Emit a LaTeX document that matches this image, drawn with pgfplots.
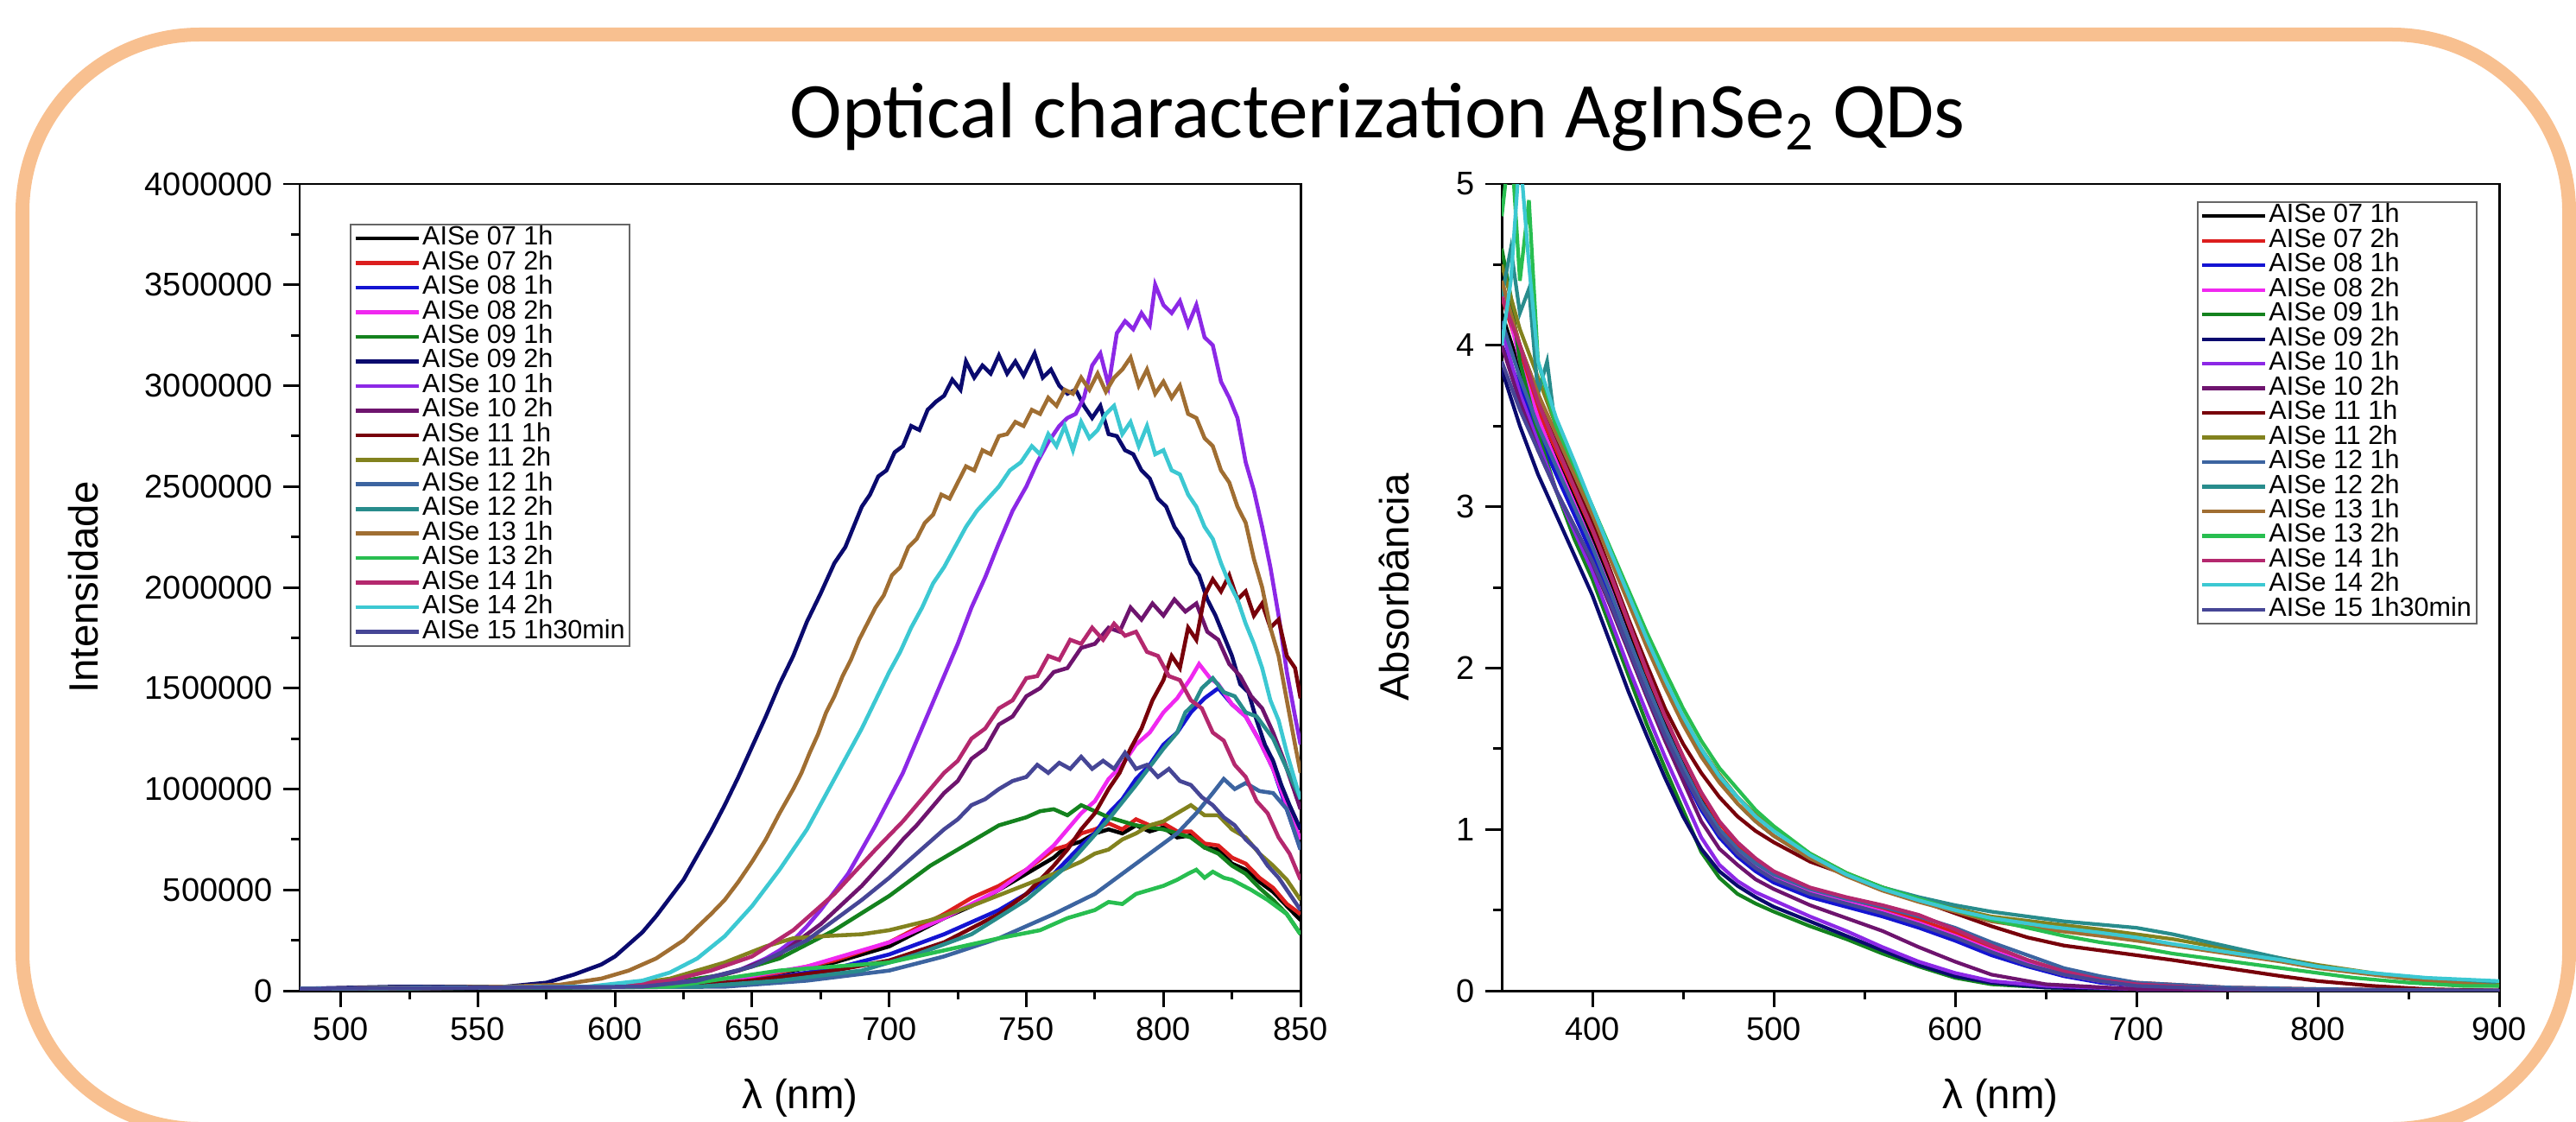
\documentclass[border=0pt]{standalone}
\usepackage{fontspec}
\setmainfont{Liberation Sans}
\newfontfamily\titlefont{Carlito}
\usepackage{pgfplots}
\pgfplotsset{compat=1.18}

\definecolor{framecol}{RGB}{248,192,144}
\definecolor{cA}{RGB}{0,0,0}
\definecolor{cB}{RGB}{220,30,30}
\definecolor{cC}{RGB}{20,20,210}
\definecolor{cD}{RGB}{240,40,240}
\definecolor{cE}{RGB}{20,130,30}
\definecolor{cF}{RGB}{10,10,110}
\definecolor{cG}{RGB}{140,40,230}
\definecolor{cH}{RGB}{110,20,110}
\definecolor{cI}{RGB}{120,0,10}
\definecolor{cJ}{RGB}{130,130,30}
\definecolor{cK}{RGB}{60,100,160}
\definecolor{cL}{RGB}{40,140,140}
\definecolor{cM}{RGB}{160,110,50}
\definecolor{cN}{RGB}{40,190,80}
\definecolor{cO}{RGB}{180,40,110}
\definecolor{cP}{RGB}{60,200,210}
\definecolor{cQ}{RGB}{70,70,150}

\pgfplotsset{
  legend image code/.code={\draw[#1] (0cm,0cm) -- (0.73cm,0cm);},
  specaxis/.style={
    scale only axis, height=9.34cm,
    axis line style={line width=0.85pt},
    tick align=outside, tick pos=left,
    major tick length=0.19cm, minor tick length=0.1cm,
    every tick/.style={black, line width=0.85pt},
    tick label style={font=\fontsize{10.8}{12}\selectfont},
    /pgf/number format/assume math mode=true,
    every axis x label/.style={at={(axis description cs:0.5,-0.1328)}, anchor=center,
      font=\fontsize{13.5}{15}\selectfont},
    legend cell align=left,
    legend style={draw=black!60, line width=0.55pt, font=\fontsize{8.7}{9}\selectfont,
      inner xsep=1pt, inner ysep=0.6pt, row sep=0pt,
      nodes={inner sep=0.6pt, text height=5.6pt, text depth=1.3pt}},
  }
}

\begin{document}
\begin{tikzpicture}
\useasboundingbox (0,0) rectangle (29.83,12.98);
\begin{scope}
\clip (0,0) rectangle (29.83,12.98);
\draw[framecol, line width=0.16cm, rounded corners=2.05cm] (0.26,12.58) rectangle (29.75,-0.09);
\end{scope}
\node[anchor=base, font=\titlefont\fontsize{26}{30}\selectfont] at (15.95,11.38)
  {Optical characterization AgInSe\textsubscript{2} QDs};

% ---------- emission ----------
\begin{axis}[specaxis,
  at={(3.47cm,1.51cm)}, anchor=south west, width=11.59cm,
  xmin=485, xmax=850, ymin=0, ymax=4,
  xtick={500,550,...,850}, minor x tick num=1,
  ytick={0,0.5,...,4}, minor y tick num=1,
  yticklabels={0,500000,1000000,1500000,2000000,2500000,3000000,3500000,4000000},
  xlabel={λ (nm)}, ylabel={Intensidade},
  every axis y label/.style={at={(axis description cs:-0.2157,0.5)}, rotate=90, anchor=center,
    font=\fontsize{13.5}{15}\selectfont},
  legend style={at={(0.05,0.951)}, anchor=north west},
  every axis plot/.append style={line width=1.3pt},
]
% AISe 07 1h
\addplot[cA] coordinates {(485,0.01)(620,0.02)(650,0.06)(680,0.14)(700,0.22)(720,0.36)(730,0.42)(740,0.50)(750,0.58)(760,0.66)(765,0.72)(770,0.74)(775,0.78)(780,0.80)(785,0.78)(790,0.82)(795,0.79)(800,0.81)(805,0.76)(810,0.77)(815,0.71)(820,0.70)(825,0.63)(830,0.60)(835,0.54)(840,0.49)(845,0.42)(850,0.35)};
% AISe 07 2h
\addplot[cB] coordinates {(485,0.01)(620,0.02)(650,0.06)(680,0.15)(700,0.24)(720,0.38)(730,0.46)(740,0.52)(750,0.60)(760,0.70)(765,0.72)(770,0.78)(775,0.80)(780,0.83)(785,0.80)(790,0.85)(795,0.82)(800,0.83)(805,0.79)(810,0.79)(815,0.73)(820,0.72)(825,0.66)(830,0.63)(835,0.56)(840,0.51)(845,0.43)(850,0.38)};
% AISe 08 1h
\addplot[cC] coordinates {(485,0.01)(620,0.02)(650,0.05)(680,0.11)(700,0.18)(720,0.28)(740,0.40)(750,0.48)(760,0.58)(770,0.72)(775,0.78)(780,0.88)(785,0.95)(790,1.05)(795,1.12)(800,1.22)(805,1.28)(810,1.38)(815,1.45)(820,1.50)(825,1.42)(830,1.36)(835,1.24)(840,1.10)(845,0.90)(850,0.70)};
% AISe 08 2h
\addplot[cD] coordinates {(485,0.01)(610,0.02)(640,0.05)(670,0.12)(700,0.24)(720,0.36)(740,0.50)(750,0.60)(760,0.72)(770,0.88)(775,0.94)(780,1.05)(785,1.12)(790,1.22)(795,1.28)(800,1.38)(805,1.45)(810,1.55)(813,1.62)(817,1.55)(820,1.52)(825,1.42)(830,1.36)(835,1.24)(840,1.10)(845,0.92)(850,0.75)};
% AISe 09 1h
\addplot[cE] coordinates {(485,0.01)(600,0.02)(620,0.04)(640,0.08)(660,0.16)(680,0.30)(700,0.47)(715,0.62)(730,0.74)(740,0.82)(745,0.84)(750,0.86)(755,0.89)(760,0.90)(765,0.87)(770,0.92)(775,0.89)(780,0.86)(785,0.84)(790,0.82)(795,0.81)(800,0.80)(805,0.78)(810,0.76)(815,0.71)(820,0.68)(825,0.62)(830,0.58)(835,0.51)(840,0.45)(845,0.38)(850,0.28)};
% AISe 09 2h
\addplot[cF] coordinates {(485,0.01)(520,0.02)(560,0.02)(575,0.04)(585,0.08)(595,0.13)(600,0.17)(605,0.23)(610,0.29)(615,0.37)(620,0.46)(625,0.55)(630,0.67)(635,0.79)(640,0.92)(645,1.06)(650,1.21)(655,1.36)(660,1.52)(665,1.66)(670,1.83)(675,1.97)(680,2.12)(684,2.20)(687,2.30)(690,2.40)(693,2.46)(696,2.55)(699,2.58)(702,2.67)(705,2.70)(708,2.80)(711,2.78)(714,2.88)(717,2.92)(720,2.95)(723,3.03)(726,2.98)(728,3.12)(731,3.04)(734,3.10)(737,3.06)(740,3.15)(743,3.06)(746,3.12)(749,3.05)(753,3.16)(756,3.04)(759,3.08)(762,3.00)(765,2.96)(768,2.98)(771,2.90)(774,2.84)(777,2.90)(780,2.76)(783,2.75)(786,2.68)(789,2.66)(792,2.58)(795,2.54)(798,2.44)(801,2.40)(804,2.30)(807,2.24)(810,2.12)(813,2.06)(816,1.94)(819,1.86)(822,1.76)(825,1.66)(828,1.52)(831,1.48)(834,1.34)(837,1.22)(840,1.14)(843,1.02)(846,0.92)(850,0.80)};
% AISe 10 1h
\addplot[cG] coordinates {(485,0.01)(600,0.02)(630,0.05)(645,0.10)(650,0.13)(655,0.16)(660,0.20)(665,0.25)(670,0.32)(675,0.40)(680,0.49)(685,0.58)(690,0.70)(695,0.82)(700,0.95)(705,1.08)(710,1.24)(715,1.40)(720,1.56)(725,1.72)(730,1.90)(735,2.05)(740,2.22)(745,2.38)(750,2.50)(754,2.62)(758,2.72)(762,2.80)(765,2.84)(768,2.86)(771,2.94)(774,3.10)(777,3.16)(780,3.00)(783,3.26)(786,3.32)(789,3.28)(792,3.36)(795,3.30)(797,3.50)(800,3.40)(803,3.36)(806,3.42)(809,3.30)(812,3.40)(815,3.24)(818,3.20)(821,3.02)(824,2.94)(827,2.84)(830,2.62)(833,2.48)(836,2.30)(839,2.10)(842,1.86)(845,1.58)(848,1.36)(850,1.22)};
% AISe 10 2h
\addplot[cH] coordinates {(485,0.01)(610,0.02)(630,0.05)(645,0.10)(660,0.18)(675,0.33)(690,0.52)(700,0.67)(705,0.75)(710,0.82)(715,0.90)(720,0.98)(725,1.04)(730,1.15)(735,1.20)(740,1.32)(745,1.36)(750,1.46)(755,1.50)(760,1.58)(765,1.60)(770,1.70)(775,1.72)(780,1.80)(784,1.78)(788,1.90)(792,1.84)(796,1.92)(800,1.86)(804,1.94)(808,1.88)(812,1.92)(816,1.78)(820,1.74)(824,1.62)(828,1.56)(832,1.46)(836,1.40)(840,1.28)(844,1.14)(848,0.98)(850,0.90)};
% AISe 11 1h
\addplot[cI] coordinates {(485,0.01)(620,0.02)(650,0.05)(680,0.10)(700,0.15)(720,0.24)(740,0.38)(750,0.48)(760,0.62)(765,0.70)(770,0.80)(775,0.88)(780,1.00)(784,1.08)(788,1.20)(792,1.30)(796,1.44)(800,1.54)(803,1.66)(806,1.60)(809,1.80)(812,1.74)(815,1.96)(818,2.04)(821,1.98)(824,2.06)(827,1.94)(830,1.98)(833,1.86)(836,1.92)(839,1.80)(842,1.84)(845,1.66)(848,1.60)(850,1.45)};
% AISe 11 2h
\addplot[cJ] coordinates {(485,0.01)(600,0.02)(620,0.06)(640,0.14)(655,0.22)(665,0.26)(675,0.27)(690,0.28)(700,0.30)(715,0.35)(730,0.42)(745,0.50)(760,0.58)(770,0.64)(775,0.68)(780,0.70)(785,0.75)(790,0.78)(795,0.82)(800,0.84)(805,0.88)(810,0.92)(815,0.87)(820,0.87)(825,0.80)(830,0.76)(835,0.68)(840,0.62)(845,0.55)(850,0.45)};
% AISe 12 1h
\addplot[cK] coordinates {(485,0.01)(640,0.02)(670,0.05)(700,0.10)(720,0.17)(740,0.26)(760,0.38)(775,0.48)(785,0.58)(795,0.68)(805,0.78)(812,0.88)(818,0.98)(822,1.05)(826,1.00)(830,1.03)(835,0.99)(840,0.98)(845,0.90)(850,0.70)};
% AISe 12 2h
\addplot[cL] coordinates {(485,0.01)(630,0.02)(660,0.05)(690,0.10)(710,0.18)(730,0.28)(750,0.45)(765,0.62)(780,0.85)(790,1.02)(800,1.20)(805,1.28)(808,1.38)(811,1.42)(814,1.50)(818,1.55)(822,1.48)(826,1.46)(830,1.38)(834,1.36)(840,1.25)(845,1.10)(850,0.95)};
% AISe 13 1h
\addplot[cM] coordinates {(485,0.01)(560,0.02)(580,0.03)(595,0.06)(605,0.10)(615,0.16)(625,0.25)(635,0.38)(640,0.45)(645,0.54)(650,0.64)(655,0.75)(660,0.88)(665,1.00)(668,1.08)(671,1.18)(674,1.27)(677,1.38)(680,1.46)(683,1.56)(686,1.64)(689,1.74)(692,1.82)(695,1.90)(698,1.96)(701,2.06)(704,2.10)(707,2.20)(710,2.24)(713,2.32)(716,2.36)(719,2.46)(722,2.44)(725,2.52)(728,2.60)(731,2.58)(734,2.68)(737,2.66)(740,2.75)(743,2.76)(746,2.82)(749,2.80)(752,2.88)(755,2.86)(758,2.94)(761,2.90)(764,2.98)(767,2.96)(770,3.04)(773,2.98)(776,3.06)(779,2.97)(782,3.04)(785,3.08)(788,3.14)(791,3.00)(794,3.08)(797,2.96)(800,3.02)(803,2.94)(806,3.00)(809,2.86)(812,2.84)(815,2.74)(818,2.70)(821,2.58)(824,2.52)(827,2.40)(830,2.32)(833,2.14)(836,2.00)(839,1.80)(842,1.66)(845,1.44)(848,1.22)(850,1.08)};
% AISe 13 2h
\addplot[cN] coordinates {(485,0.01)(620,0.02)(640,0.06)(660,0.10)(680,0.12)(700,0.14)(720,0.20)(740,0.26)(755,0.30)(765,0.36)(775,0.40)(780,0.44)(785,0.43)(790,0.48)(795,0.50)(800,0.52)(805,0.55)(809,0.58)(812,0.60)(815,0.56)(818,0.59)(822,0.56)(825,0.55)(832,0.50)(838,0.45)(845,0.38)(850,0.28)};
% AISe 14 1h
\addplot[cO] coordinates {(485,0.01)(600,0.02)(620,0.05)(635,0.10)(650,0.17)(665,0.30)(680,0.48)(695,0.70)(700,0.77)(705,0.84)(710,0.92)(715,1.00)(720,1.08)(725,1.14)(730,1.25)(735,1.30)(740,1.40)(745,1.44)(750,1.55)(754,1.56)(758,1.66)(762,1.64)(766,1.74)(770,1.72)(774,1.80)(778,1.74)(782,1.82)(786,1.76)(790,1.78)(794,1.68)(798,1.66)(802,1.56)(806,1.54)(810,1.44)(814,1.40)(818,1.28)(822,1.24)(826,1.12)(830,1.06)(834,0.94)(838,0.88)(842,0.76)(846,0.68)(850,0.55)};
% AISe 14 2h
\addplot[cP] coordinates {(485,0.01)(590,0.02)(610,0.05)(620,0.09)(630,0.16)(640,0.27)(650,0.42)(660,0.60)(670,0.80)(680,1.05)(690,1.30)(700,1.58)(704,1.68)(708,1.80)(712,1.90)(716,2.02)(720,2.10)(724,2.20)(728,2.30)(732,2.38)(736,2.44)(740,2.50)(744,2.58)(748,2.62)(752,2.70)(755,2.66)(758,2.76)(761,2.70)(764,2.80)(767,2.68)(770,2.82)(773,2.74)(776,2.78)(779,2.86)(782,2.90)(785,2.76)(788,2.82)(791,2.70)(794,2.80)(797,2.66)(800,2.68)(803,2.58)(806,2.56)(809,2.46)(812,2.40)(815,2.30)(818,2.24)(821,2.12)(824,2.02)(827,1.94)(830,1.82)(833,1.72)(836,1.60)(839,1.44)(842,1.34)(845,1.18)(848,1.04)(850,0.95)};
% AISe 15 1h30min
\addplot[cQ] coordinates {(485,0.01)(610,0.02)(630,0.05)(650,0.12)(670,0.25)(690,0.45)(700,0.56)(705,0.62)(710,0.68)(715,0.74)(720,0.80)(725,0.85)(730,0.92)(735,0.95)(740,1.00)(745,1.04)(750,1.06)(754,1.12)(758,1.08)(762,1.13)(766,1.10)(770,1.16)(774,1.10)(778,1.14)(782,1.10)(786,1.18)(790,1.10)(794,1.12)(798,1.06)(802,1.10)(806,1.04)(810,1.02)(814,0.96)(818,0.92)(822,0.86)(826,0.82)(830,0.75)(834,0.70)(838,0.62)(842,0.56)(846,0.48)(850,0.40)};
\legend{AISe 07 1h, AISe 07 2h, AISe 08 1h, AISe 08 2h, AISe 09 1h, AISe 09 2h, AISe 10 1h, AISe 10 2h, AISe 11 1h, AISe 11 2h, AISe 12 1h, AISe 12 2h, AISe 13 1h, AISe 13 2h, AISe 14 1h, AISe 14 2h, AISe 15 1h30min}
\end{axis}

% ---------- absorbance ----------
\begin{axis}[specaxis,
  at={(17.39cm,1.51cm)}, anchor=south west, width=11.55cm,
  xmin=350, xmax=900, ymin=0, ymax=5,
  xtick={400,500,...,900}, minor x tick num=1,
  ytick={0,1,...,5}, minor y tick num=1,
  xlabel={λ (nm)}, ylabel={Absorbância},
  every axis y label/.style={at={(axis description cs:-0.108,0.5)}, rotate=90, anchor=center,
    font=\fontsize{13.5}{15}\selectfont},
  legend style={at={(0.978,0.9786)}, anchor=north east},
  every axis plot/.append style={line width=1.2pt},
]
% AISe 07 1h
\addplot[cA] coordinates {(350,4.2)(360,3.85)(370,3.55)(380,3.3)(390,3.05)(400,2.8)(410,2.52)(420,2.22)(430,1.92)(440,1.65)(450,1.40)(460,1.18)(470,1.0)(480,0.87)(490,0.78)(500,0.71)(520,0.62)(540,0.56)(560,0.50)(580,0.43)(600,0.35)(620,0.26)(640,0.18)(660,0.11)(680,0.07)(700,0.04)(750,0.01)(800,0)(900,0)};
% AISe 07 2h
\addplot[cB] coordinates {(350,4.3)(360,3.95)(370,3.6)(380,3.35)(390,3.1)(400,2.85)(410,2.57)(420,2.27)(430,1.97)(440,1.70)(450,1.45)(460,1.22)(470,1.04)(480,0.90)(490,0.80)(500,0.73)(520,0.63)(540,0.57)(560,0.51)(580,0.44)(600,0.36)(620,0.27)(640,0.19)(660,0.12)(680,0.08)(700,0.05)(750,0.02)(800,0.01)(900,0)};
% AISe 08 1h
\addplot[cC] coordinates {(350,4.0)(360,3.75)(370,3.45)(380,3.2)(390,2.95)(400,2.7)(410,2.43)(420,2.14)(430,1.85)(440,1.58)(450,1.34)(460,1.12)(470,0.95)(480,0.83)(490,0.74)(500,0.67)(520,0.58)(540,0.52)(560,0.46)(580,0.39)(600,0.31)(620,0.22)(640,0.15)(660,0.09)(680,0.05)(700,0.03)(750,0.01)(800,0)(900,0)};
% AISe 08 2h
\addplot[cD] coordinates {(350,4.4)(360,3.9)(370,3.55)(380,3.28)(390,3.02)(400,2.76)(410,2.48)(420,2.18)(430,1.88)(440,1.61)(450,1.37)(460,1.15)(470,0.98)(480,0.86)(490,0.77)(500,0.70)(520,0.61)(540,0.55)(560,0.49)(580,0.42)(600,0.34)(620,0.25)(640,0.17)(660,0.10)(680,0.06)(700,0.03)(750,0.01)(800,0)(900,0)};
% AISe 09 1h
\addplot[cE] coordinates {(350,4.6)(355,4.3)(360,3.9)(370,3.45)(380,3.1)(390,2.8)(400,2.55)(410,2.25)(420,1.95)(430,1.65)(440,1.38)(450,1.12)(460,0.86)(470,0.70)(480,0.60)(490,0.54)(500,0.49)(520,0.40)(540,0.32)(560,0.23)(580,0.15)(600,0.08)(620,0.04)(650,0.02)(700,0.01)(900,0)};
% AISe 09 2h
\addplot[cF] coordinates {(350,3.85)(360,3.5)(370,3.2)(380,2.95)(390,2.7)(400,2.45)(410,2.15)(420,1.85)(430,1.58)(440,1.32)(450,1.08)(460,0.88)(470,0.74)(480,0.65)(490,0.58)(500,0.52)(520,0.43)(540,0.34)(560,0.25)(580,0.16)(600,0.09)(620,0.05)(650,0.02)(700,0.01)(900,0)};
% AISe 10 1h
\addplot[cG] coordinates {(350,4.1)(360,3.7)(370,3.4)(380,3.1)(390,2.85)(400,2.6)(410,2.3)(420,2.0)(430,1.72)(440,1.45)(450,1.2)(460,0.95)(470,0.78)(480,0.68)(490,0.61)(500,0.56)(520,0.46)(540,0.37)(560,0.27)(580,0.18)(600,0.11)(620,0.06)(650,0.03)(700,0.01)(900,0)};
% AISe 10 2h
\addplot[cH] coordinates {(350,4.0)(360,3.65)(370,3.35)(380,3.1)(390,2.88)(400,2.65)(410,2.38)(420,2.1)(430,1.82)(440,1.55)(450,1.3)(460,1.05)(470,0.88)(480,0.78)(490,0.69)(500,0.63)(520,0.53)(540,0.45)(560,0.37)(580,0.27)(600,0.18)(620,0.10)(650,0.04)(700,0.01)(900,0)};
% AISe 11 1h
\addplot[cI] coordinates {(350,4.4)(360,4.0)(370,3.7)(380,3.4)(390,3.15)(400,2.9)(410,2.6)(420,2.3)(430,2.02)(440,1.75)(450,1.53)(460,1.35)(470,1.2)(480,1.08)(490,0.99)(500,0.92)(520,0.80)(540,0.72)(560,0.64)(580,0.56)(600,0.48)(620,0.40)(640,0.33)(660,0.28)(680,0.25)(700,0.22)(720,0.19)(750,0.14)(780,0.09)(800,0.06)(830,0.03)(860,0.01)(900,0)};
% AISe 11 2h
\addplot[cJ] coordinates {(350,4.5)(360,4.1)(370,3.8)(380,3.5)(390,3.25)(400,3.0)(410,2.72)(420,2.45)(430,2.18)(440,1.92)(450,1.7)(460,1.5)(470,1.34)(480,1.2)(490,1.09)(500,1.0)(520,0.85)(540,0.73)(560,0.64)(580,0.57)(600,0.51)(620,0.46)(650,0.42)(680,0.38)(700,0.35)(720,0.32)(750,0.26)(780,0.20)(800,0.16)(830,0.11)(860,0.07)(900,0.04)};
% AISe 12 1h
\addplot[cK] coordinates {(350,4.15)(360,3.8)(370,3.5)(380,3.25)(390,3.0)(400,2.75)(410,2.47)(420,2.18)(430,1.9)(440,1.63)(450,1.39)(460,1.17)(470,1.0)(480,0.88)(490,0.79)(500,0.72)(520,0.63)(540,0.57)(560,0.52)(580,0.46)(600,0.39)(620,0.30)(640,0.22)(660,0.14)(680,0.09)(700,0.05)(750,0.02)(800,0.01)(900,0)};
% AISe 12 2h
\addplot[cL] coordinates {(350,4.3)(355,4.6)(360,4.2)(365,4.35)(370,3.7)(375,3.9)(380,3.45)(390,3.2)(400,2.95)(410,2.68)(420,2.42)(430,2.15)(440,1.9)(450,1.68)(460,1.48)(470,1.3)(480,1.16)(490,1.05)(500,0.96)(520,0.82)(540,0.72)(560,0.64)(580,0.58)(600,0.53)(620,0.49)(640,0.46)(660,0.43)(680,0.41)(700,0.39)(720,0.35)(740,0.30)(760,0.25)(780,0.20)(800,0.15)(820,0.12)(840,0.09)(860,0.07)(880,0.06)(890,0.04)(900,0.06)};
% AISe 13 1h
\addplot[cM] coordinates {(350,4.4)(360,4.0)(370,3.7)(380,3.45)(390,3.2)(400,2.95)(410,2.67)(420,2.4)(430,2.13)(440,1.88)(450,1.65)(460,1.45)(470,1.29)(480,1.16)(490,1.05)(500,0.96)(520,0.82)(540,0.71)(560,0.62)(580,0.55)(600,0.49)(620,0.43)(650,0.38)(680,0.34)(700,0.31)(720,0.28)(750,0.23)(780,0.18)(800,0.14)(830,0.10)(860,0.06)(900,0.03)};
% AISe 13 2h
\addplot[cN] coordinates {(350,4.8)(355,5.3)(360,4.4)(365,4.9)(370,3.9)(380,3.5)(390,3.25)(400,3.0)(410,2.74)(420,2.48)(430,2.22)(440,1.98)(450,1.75)(460,1.55)(470,1.38)(480,1.25)(490,1.12)(500,1.02)(520,0.85)(540,0.73)(560,0.64)(580,0.57)(600,0.50)(620,0.44)(640,0.39)(660,0.34)(680,0.30)(700,0.27)(720,0.23)(740,0.20)(760,0.17)(780,0.14)(800,0.11)(820,0.08)(850,0.05)(880,0.03)(900,0.03)};
% AISe 14 1h
\addplot[cO] coordinates {(350,4.3)(360,4.0)(370,3.65)(380,3.38)(390,3.12)(400,2.86)(410,2.58)(420,2.28)(430,1.98)(440,1.7)(450,1.45)(460,1.23)(470,1.05)(480,0.92)(490,0.82)(500,0.74)(520,0.64)(540,0.58)(560,0.53)(580,0.47)(600,0.38)(620,0.28)(640,0.19)(660,0.12)(680,0.07)(700,0.04)(750,0.01)(800,0)(900,0)};
% AISe 14 2h
\addplot[cP] coordinates {(350,4.0)(355,4.4)(360,5.2)(365,4.5)(370,3.9)(380,3.55)(390,3.28)(400,3.0)(410,2.72)(420,2.45)(430,2.18)(440,1.93)(450,1.7)(460,1.5)(470,1.33)(480,1.2)(490,1.08)(500,0.99)(520,0.84)(540,0.72)(560,0.63)(580,0.56)(600,0.50)(620,0.45)(650,0.40)(680,0.36)(700,0.33)(720,0.29)(750,0.24)(780,0.19)(800,0.15)(830,0.11)(860,0.08)(900,0.06)};
% AISe 15 1h30min
\addplot[cQ] coordinates {(350,3.9)(360,3.6)(370,3.35)(380,3.1)(390,2.88)(400,2.66)(410,2.4)(420,2.12)(430,1.84)(440,1.58)(450,1.35)(460,1.14)(470,0.97)(480,0.85)(490,0.76)(500,0.69)(520,0.60)(540,0.54)(560,0.48)(580,0.41)(600,0.33)(620,0.24)(640,0.16)(660,0.10)(680,0.06)(700,0.03)(750,0.01)(800,0)(900,0)};
\legend{AISe 07 1h, AISe 07 2h, AISe 08 1h, AISe 08 2h, AISe 09 1h, AISe 09 2h, AISe 10 1h, AISe 10 2h, AISe 11 1h, AISe 11 2h, AISe 12 1h, AISe 12 2h, AISe 13 1h, AISe 13 2h, AISe 14 1h, AISe 14 2h, AISe 15 1h30min}
\end{axis}
\end{tikzpicture}
\end{document}
